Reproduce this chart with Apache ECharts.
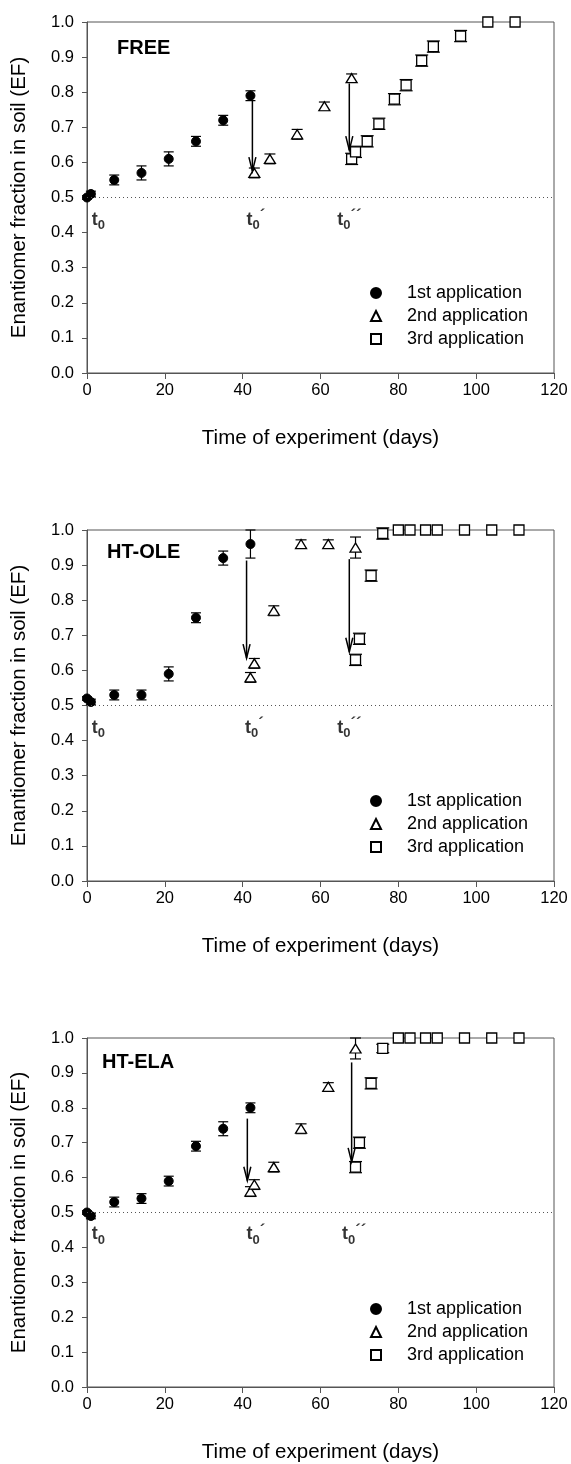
<!DOCTYPE html>
<html>
<head>
<meta charset="utf-8">
<script src="https://cdn.jsdelivr.net/npm/echarts@6/dist/echarts.min.js"></script>
<style>
  html, body { margin: 0; padding: 0; background: #fff; }
  #chart { width: 571px; height: 1464px; }
</style>
</head>
<body>
<div id="chart"></div>
<script>
// ---------- DATA ----------
const panelTitles = ['FREE', 'HT-OLE', 'HT-ELA'];
const seriesNames = ['1st application', '2nd application', '3rd application'];
const xTickValues = [0, 20, 40, 60, 80, 100, 120];
const yTickValues = [0.0, 0.1, 0.2, 0.3, 0.4, 0.5, 0.6, 0.7, 0.8, 0.9, 1.0];
const xAxisTitle = 'Time of experiment (days)';
const yAxisTitle = 'Enantiomer fraction in soil (EF)';
const referenceEF = 0.5;

// FREE
const free1Day = [0, 1, 7, 14, 21, 28, 35, 42];
const free1EF  = [0.50, 0.51, 0.55, 0.57, 0.61, 0.66, 0.72, 0.79];
const free1Err = [0.005, 0.008, 0.014, 0.02, 0.02, 0.014, 0.014, 0.014];
const free2Day = [43, 47, 54, 61, 68];
const free2EF  = [0.57, 0.61, 0.68, 0.76, 0.84];
const free2Err = [0.014, 0.014, 0.014, 0.012, 0.012];
const free3Day = [68, 69, 72, 75, 79, 82, 86, 89, 96, 103, 110];
const free3EF  = [0.61, 0.63, 0.66, 0.71, 0.78, 0.82, 0.89, 0.93, 0.96, 1.0, 1.0];
const free3Err = [0.016, 0.016, 0.016, 0.016, 0.016, 0.016, 0.016, 0.016, 0.016, 0, 0];
const freeArrows = [[42.5, 0.778, 0.575], [67.4, 0.825, 0.635]];

// HT-OLE
const ole1Day = [0, 1, 7, 14, 21, 28, 35, 42];
const ole1EF  = [0.52, 0.51, 0.53, 0.53, 0.59, 0.75, 0.92, 0.96];
const ole1Err = [0.005, 0.008, 0.014, 0.014, 0.02, 0.014, 0.02, 0.04];
const ole2Day = [42, 43, 48, 55, 62, 69];
const ole2EF  = [0.58, 0.62, 0.77, 0.96, 0.96, 0.95];
const ole2Err = [0.014, 0.014, 0.014, 0.012, 0.012, 0.03];
const ole3Day = [69, 70, 73, 76, 80, 83, 87, 90, 97, 104, 111];
const ole3EF  = [0.63, 0.69, 0.87, 0.99, 1.0, 1.0, 1.0, 1.0, 1.0, 1.0, 1.0];
const ole3Err = [0.016, 0.016, 0.016, 0.016, 0, 0, 0, 0, 0, 0, 0];
const oleArrows = [[41.0, 0.913, 0.635], [67.4, 0.917, 0.653]];

// HT-ELA
const ela1Day = [0, 1, 7, 14, 21, 28, 35, 42];
const ela1EF  = [0.50, 0.49, 0.53, 0.54, 0.59, 0.69, 0.74, 0.80];
const ela1Err = [0.005, 0.008, 0.014, 0.014, 0.014, 0.014, 0.02, 0.014];
const ela2Day = [42, 43, 48, 55, 62, 69];
const ela2EF  = [0.56, 0.58, 0.63, 0.74, 0.86, 0.97];
const ela2Err = [0.014, 0.014, 0.014, 0.014, 0.012, 0.03];
const ela3Day = [69, 70, 73, 76, 80, 83, 87, 90, 97, 104, 111];
const ela3EF  = [0.63, 0.70, 0.87, 0.97, 1.0, 1.0, 1.0, 1.0, 1.0, 1.0, 1.0];
const ela3Err = [0.016, 0.016, 0.016, 0.012, 0, 0, 0, 0, 0, 0, 0];
const elaArrows = [[41.2, 0.769, 0.591], [68.0, 0.93, 0.645]];

// t0 marker primes
const t0Labels = ['', '´', '´´'];

// ---------- LAYOUT ----------
const FONT = 'Liberation Sans, Arial, sans-serif';
const gridLeft = 87, gridWidth = 467, gridHeight = 351;
const gridTops = [22, 530, 1038];
const titleOffsets = [[117, 27], [107, 23], [102, 25]];
const labelAnchors = [
  [[1.2, 0.437], [41.0, 0.437], [64.3, 0.437]],
  [[1.2, 0.437], [40.6, 0.437], [64.3, 0.437]],
  [[1.2, 0.437], [41.0, 0.437], [65.5, 0.437]]
];

const panels = [
  { apps: [[free1Day, free1EF, free1Err], [free2Day, free2EF, free2Err], [free3Day, free3EF, free3Err]], arrows: freeArrows },
  { apps: [[ole1Day, ole1EF, ole1Err], [ole2Day, ole2EF, ole2Err], [ole3Day, ole3EF, ole3Err]], arrows: oleArrows },
  { apps: [[ela1Day, ela1EF, ela1Err], [ela2Day, ela2EF, ela2Err], [ela3Day, ela3EF, ela3Err]], arrows: elaArrows }
];

const markerStyles = [
  { symbol: 'circle', symbolSize: 9, itemStyle: { color: '#000', borderColor: '#000', borderWidth: 1, opacity: 1 } },
  { symbol: 'triangle', symbolSize: [11, 9], itemStyle: { color: '#fff', borderColor: '#000', borderWidth: 1.3, opacity: 1 } },
  { symbol: 'rect', symbolSize: [10, 10], itemStyle: { color: '#fff', borderColor: '#000', borderWidth: 1.3, opacity: 1 } }
];
const capHalf = [5, 5.5, 6.5];

function makeErrRender(cap) {
  return function (params, api) {
    const x = api.value(0), y = api.value(1), e = api.value(2);
    if (!e) return null;
    const top = api.coord([x, y + e]);
    const bot = api.coord([x, y - e]);
    const st = { stroke: '#000', lineWidth: 1.2 };
    return {
      type: 'group',
      children: [
        { type: 'line', shape: { x1: top[0], y1: top[1], x2: bot[0], y2: bot[1] }, style: st },
        { type: 'line', shape: { x1: top[0] - cap, y1: top[1], x2: top[0] + cap, y2: top[1] }, style: st },
        { type: 'line', shape: { x1: bot[0] - cap, y1: bot[1], x2: bot[0] + cap, y2: bot[1] }, style: st }
      ]
    };
  };
}

function arrowRender(params, api) {
  const x = api.value(0), y1 = api.value(1), y2 = api.value(2);
  const p1 = api.coord([x, y1]);
  const p2 = api.coord([x, y2]);
  const st = { stroke: '#000', lineWidth: 1.5, fill: null };
  return {
    type: 'group',
    children: [
      { type: 'line', shape: { x1: p1[0], y1: p1[1], x2: p2[0], y2: p2[1] }, style: st },
      { type: 'polyline', shape: { points: [[p2[0] - 3.5, p2[1] - 14], [p2[0], p2[1]], [p2[0] + 3.5, p2[1] - 14]] }, style: st }
    ]
  };
}

const grids = [], xAxes = [], yAxes = [], series = [], titles = [], legends = [];

panels.forEach((p, i) => {
  grids.push({ left: gridLeft, top: gridTops[i], width: gridWidth, height: gridHeight,
    show: true, borderColor: '#555', borderWidth: 1, backgroundColor: 'transparent' });
  xAxes.push({
    type: 'value', gridIndex: i, min: xTickValues[0], max: xTickValues[xTickValues.length - 1], interval: 20,
    name: xAxisTitle, nameLocation: 'middle', nameGap: 55,
    nameTextStyle: { fontFamily: FONT, fontSize: 20.5, color: '#000' },
    axisLine: { show: true, onZero: false, lineStyle: { color: '#555', width: 1 } },
    axisTick: { show: true, inside: false, length: 6, lineStyle: { color: '#555' } },
    axisLabel: { fontFamily: FONT, fontSize: 16.5, color: '#000', margin: 9 },
    splitLine: { show: false }
  });
  yAxes.push({
    type: 'value', gridIndex: i, min: yTickValues[0], max: yTickValues[yTickValues.length - 1], interval: 0.1,
    name: yAxisTitle, nameLocation: 'middle', nameGap: 57,
    nameTextStyle: { fontFamily: FONT, fontSize: 20.5, color: '#000' },
    axisLine: { show: true, onZero: false, lineStyle: { color: '#555', width: 1 } },
    axisTick: { show: true, inside: false, length: 5, lineStyle: { color: '#555' } },
    axisLabel: { fontFamily: FONT, fontSize: 16.5, color: '#000', margin: 13, formatter: v => v.toFixed(1) },
    splitLine: { show: false }
  });
  titles.push({ text: panelTitles[i], left: titleOffsets[i][0], top: gridTops[i] + titleOffsets[i][1] - 11, padding: 0,
    textStyle: { fontFamily: FONT, fontSize: 20, fontWeight: 'bold', color: '#000' } });
  legends.push({
    data: seriesNames.map(n => ({ name: n })), orient: 'vertical', left: 370, top: gridTops[i] + 262, padding: 0,
    itemWidth: 10, itemHeight: 10, itemGap: 5,
    textStyle: { fontFamily: FONT, fontSize: 18, color: '#000', lineHeight: 18, padding: [0, 0, 0, 21] },
    selectedMode: false
  });

  // reference line at EF 0.5 + arrows
  series.push({
    type: 'custom', name: 'arrows' + i, xAxisIndex: i, yAxisIndex: i, renderItem: arrowRender,
    data: p.arrows, z: 4, silent: true,
    markLine: {
      silent: true, symbol: ['none', 'none'], label: { show: false },
      lineStyle: { type: [1, 3], color: '#555', width: 1.2 },
      data: [{ yAxis: referenceEF }], animation: false
    }
  });

  p.apps.forEach((app, k) => {
    const [days, ef, err] = app;
    series.push({
      type: 'custom', name: 'err' + i + '_' + k, xAxisIndex: i, yAxisIndex: i, renderItem: makeErrRender(capHalf[k]),
      data: days.map((d, j) => [d, ef[j], err[j]]), z: 2, silent: true
    });
    series.push(Object.assign({
      type: 'scatter', name: seriesNames[k], xAxisIndex: i, yAxisIndex: i,
      data: days.map((d, j) => [d, ef[j]]), z: 3, silent: true
    }, JSON.parse(JSON.stringify(markerStyles[k]))));
  });

  // t0 labels
  series.push({
    type: 'scatter', name: 'labels' + i, xAxisIndex: i, yAxisIndex: i, symbolSize: 0, silent: true, z: 5,
    data: labelAnchors[i].map((a, j) => ({ value: a, lab: t0Labels[j] })),
    label: {
      show: true, position: 'right', distance: 0,
      formatter: prm => '{t|t}{s|0}' + (prm.data.lab ? '{p|' + prm.data.lab + '}' : ''),
      rich: {
        t: { fontFamily: FONT, fontSize: 18, fontWeight: 'bold', color: '#000' },
        s: { fontFamily: FONT, fontSize: 13, fontWeight: 'bold', color: '#000', padding: [12, 0, 0, 0] },
        p: { fontFamily: FONT, fontSize: 17, fontWeight: 'bold', color: '#000', padding: [0, 0, 6, 0] }
      }
    }
  });
});

const chart = echarts.init(document.getElementById('chart'), null, { renderer: 'canvas' });
chart.setOption({
  animation: false,
  backgroundColor: '#fff',
  title: titles,
  legend: legends,
  grid: grids,
  xAxis: xAxes,
  yAxis: yAxes,
  series: series
});
</script>
</body>
</html>
